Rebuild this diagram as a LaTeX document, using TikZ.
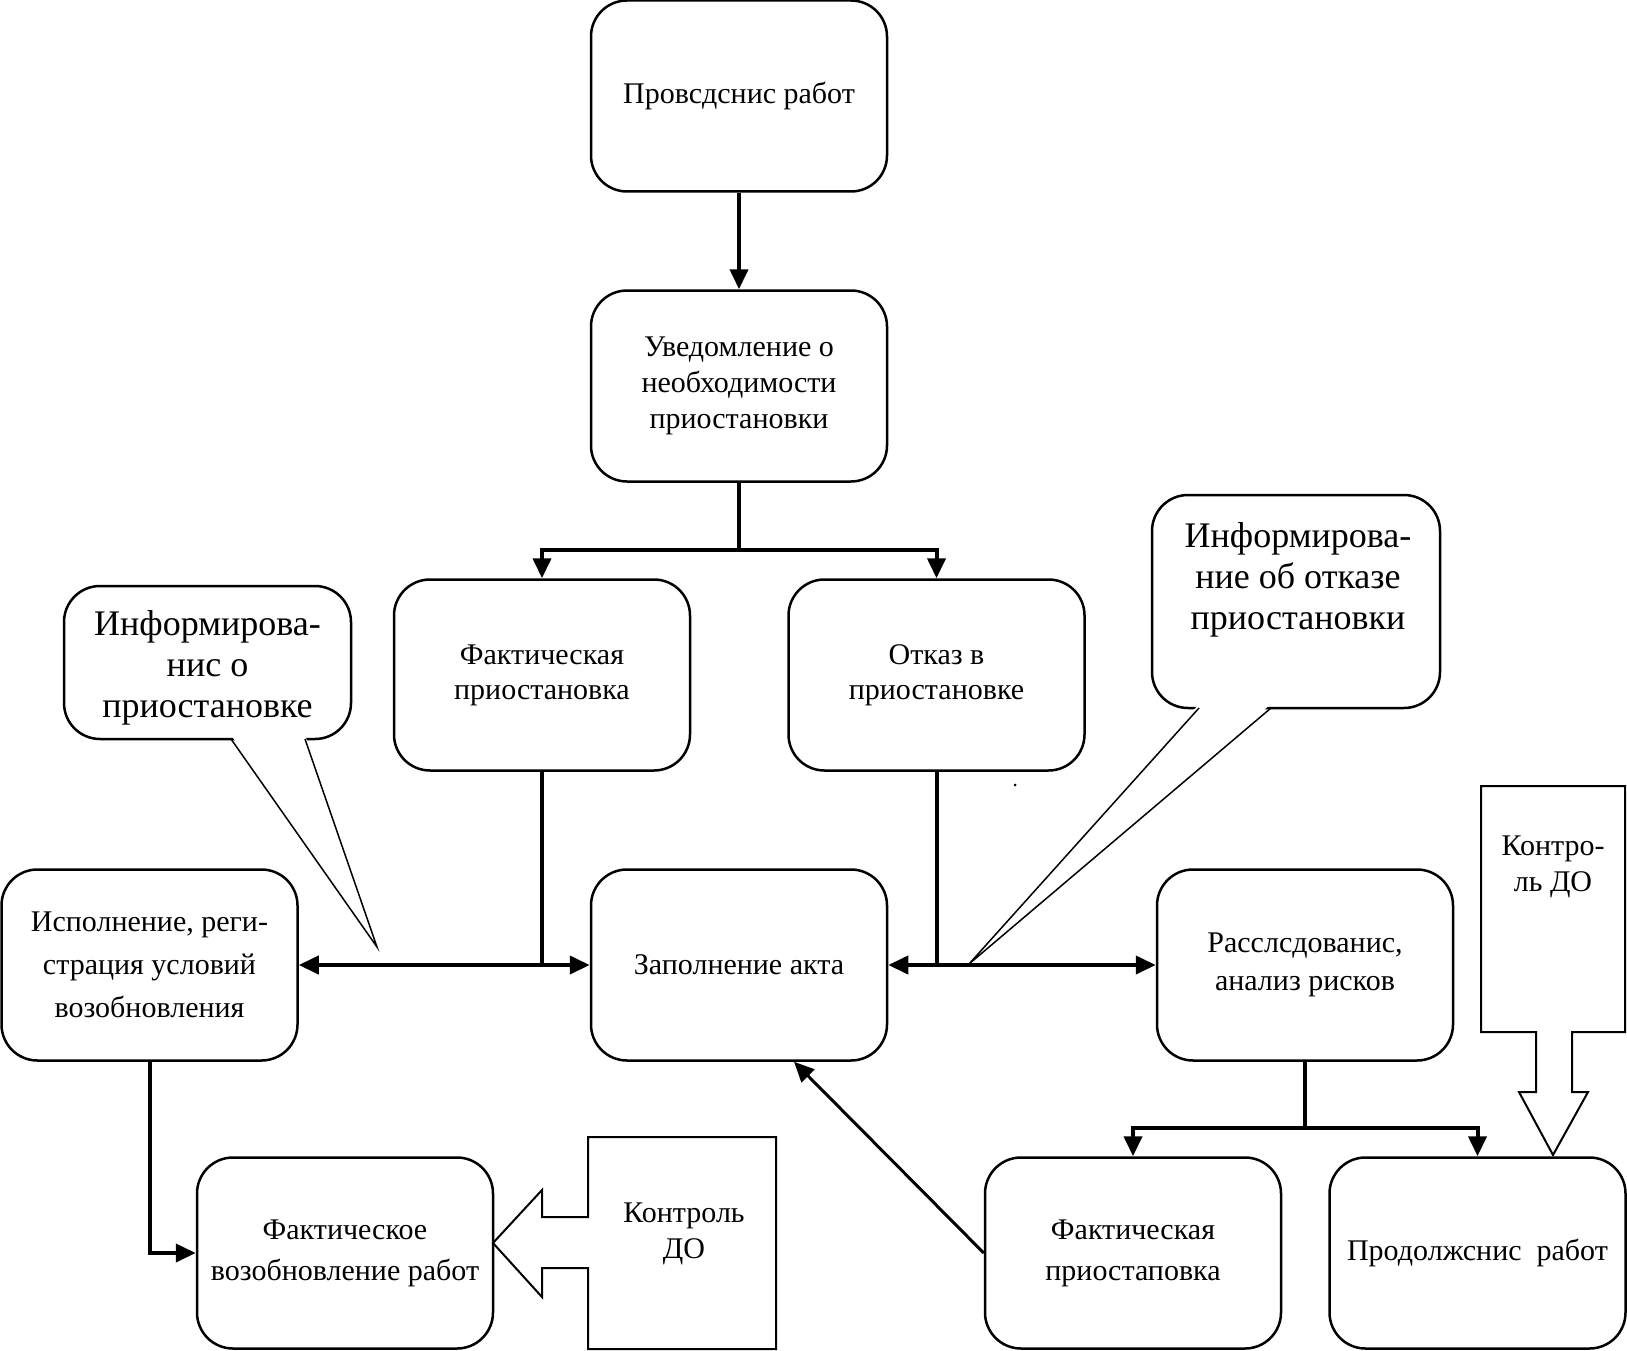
\documentclass[tikz,border=0pt]{standalone}
\usepackage{fontspec}
\setmainfont{Liberation Serif}
\usetikzlibrary{arrows.meta,calc}
\begin{document}
\begin{tikzpicture}[x=1pt,y=-1pt,
  box/.style={draw,line width=2.5pt,rounded corners=36pt,minimum width=296pt,minimum height=191pt,inner sep=0pt,align=center,font=\fontsize{30}{36}\selectfont},
  callbox/.style={draw,line width=2.5pt,rounded corners=36pt,inner sep=0pt,fill=white},
  calltext/.style={align=center,font=\fontsize{36}{41}\selectfont},
  tail/.style={line width=1.5pt},
  ctrlshape/.style={draw,line width=2pt},
  ctrltext/.style={align=center,font=\fontsize{30}{36}\selectfont},
  conn/.style={line width=4pt},
  arr/.style={line width=4pt,-{Triangle[length=20pt,width=18pt]}},
  arrtwo/.style={line width=4pt,{Triangle[length=20pt,width=18pt]}-{Triangle[length=20pt,width=18pt]}}
]
\useasboundingbox (0,0) rectangle (1627,1351);

% boxes
\node[box] (b1) at (739,96) {Провсдснис работ};
\node[box] (b2) at (739,386) {Уведомление о\\необходимости\\приостановки};
\node[box,font=\fontsize{30}{35}\selectfont] (b3) at (542,675) {Фактическая\\приостановка};
\node[box,font=\fontsize{30}{35}\selectfont] (b4) at (936.5,675) {Отказ в\\приостановке};
\node[box,font=\fontsize{30}{43}\selectfont] (b5) at (149.5,965) {Исполнение, реги-\\страция условий\\возобновления};
\node[box] (b6) at (739,965) {Заполнение акта};
\node[box,font=\fontsize{30}{38}\selectfont] (b7) at (1305,965) {Расслсдованис,\\анализ рисков};
\node[box,font=\fontsize{30}{41}\selectfont] (b8) at (345,1253) {Фактическое\\возобновление работ};
\node[box,font=\fontsize{30}{41}\selectfont] (b9) at (1133,1253) {Фактическая\\приостаповка};
\node[box] (b10) at (1477.5,1253) {Продолжснис\ \ работ};

% callout 1
\node[callbox,minimum width=287pt,minimum height=153pt] (c1) at (207.5,662.5) {};
\coordinate (c1tip) at (377,947);
\fill[white] (231,735) -- (c1tip) -- (305,735) -- cycle;
\draw[tail] (231,739) -- (c1tip) -- (305,739);
\node[calltext] (c1t) at (207.5,668) {Информирова-\\нис о\\приостановке};

% callout 2
\node[callbox,minimum width=288pt,minimum height=213pt] (c2) at (1296,601.5) {};
\coordinate (c2tip) at (969,964);
\fill[white] (1199,704) -- (c2tip) -- (1271,704) -- cycle;
\draw[tail] (1199,708) -- (c2tip) -- (1271,708);
\node[calltext] (c2t) at (1298,580) {Информирова-\\ние об отказе\\приостановки};

% control 1 (arrow pointing left)
\draw[ctrlshape] (588,1137) -- (776,1137) -- (776,1349) -- (588,1349) -- (588,1268) -- (542,1268) -- (542,1297) -- (493,1243) -- (542,1190) -- (542,1217) -- (588,1217) -- cycle;
\node[ctrltext] (k1) at (684,1234) {Контроль\\ДО};

% control 2 (arrow pointing down)
\draw[ctrlshape] (1481,786) -- (1625,786) -- (1625,1032) -- (1572,1032) -- (1572,1092) -- (1588,1092) -- (1553,1155) -- (1519,1092) -- (1536,1092) -- (1536,1032) -- (1481,1032) -- cycle;
\node[ctrltext] (k2) at (1553,867) {Контро-\\ль ДО};

% connectors
\draw[arr] (b1.south) -- (b2.north);
\coordinate (j1) at (739,550);
\draw[conn] (b2.south) -- (j1);
\draw[arr] (j1) -| (b3.north);
\draw[arr] (j1) -| (b4.north);
\draw[conn] (b3.south) -- (b3.south |- b6.west);
\draw[arrtwo] (b5.east) -- (b6.west);
\draw[conn] (b4.south) -- (b4.south |- b6.east);
\draw[arrtwo] (b6.east) -- (b7.west);
\draw[arr] (b5.south) |- (b8.west);
\coordinate (j2) at (1305,1128);
\draw[conn] (b7.south) -- (j2);
\draw[arr] (j2) -| (b9.north);
\draw[arr] (j2) -| (b10.north);
\draw[arr,line width=3pt] (b9.west) -- ([xshift=55pt]b6.south);

% stray dot
\fill (1015,785) circle (1.5pt);
\end{tikzpicture}
\end{document}
